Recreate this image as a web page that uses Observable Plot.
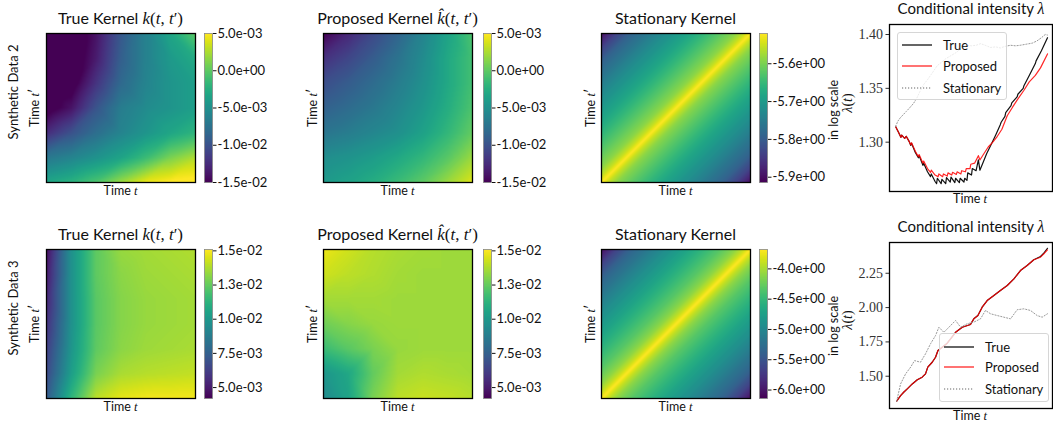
<!DOCTYPE html>
<html><head><meta charset="utf-8">
<script src="https://cdn.jsdelivr.net/npm/d3@7"></script>
<script src="https://cdn.jsdelivr.net/npm/@observablehq/plot@0.6"></script>
<style>
body{margin:0;background:#fff}
#fig{position:relative;width:1053px;height:427px;overflow:hidden;font-family:Lato,"DejaVu Sans",sans-serif;color:#111}
#fig svg{position:absolute;overflow:visible}
.lbl{position:absolute;white-space:nowrap;line-height:1}
.m{font-family:"Liberation Serif","DejaVu Serif",serif;font-style:italic}
.mm{font-family:"Liberation Serif","DejaVu Serif",serif}
.leg{position:absolute;background:rgba(255,255,255,0.8);border:1px solid #d6d6d6;border-radius:3px;font-size:13px}
.leg div{position:absolute;left:45px;transform:translateY(-50%);white-space:nowrap}
.leg svg{position:absolute;left:4px;width:30px;height:4px;transform:translateY(-50%)}
</style></head>
<body><div id="fig"></div>
<script>
// ---------- Heatmap data (rows top -> bottom, columns t = 0 .. 1) ----------
const sd2True = [
  [-0.0170,-0.0165,-0.0140,-0.0095,-0.0062,-0.0032, 0.0000],
  [-0.0170,-0.0165,-0.0135,-0.0090,-0.0062,-0.0042,-0.0028],
  [-0.0168,-0.0160,-0.0120,-0.0082,-0.0060,-0.0046,-0.0038],
  [-0.0160,-0.0140,-0.0098,-0.0066,-0.0054,-0.0046,-0.0038],
  [-0.0125,-0.0100,-0.0078,-0.0060,-0.0046,-0.0032,-0.0020],
  [-0.0070,-0.0060,-0.0048,-0.0034,-0.0014, 0.0010, 0.0026],
  [-0.0032,-0.0022,-0.0006, 0.0020, 0.0044, 0.0052, 0.0056]
];
const sd2Prop = [
  [-0.0150,-0.0128,-0.0106,-0.0086,-0.0060,-0.0034,-0.0006],
  [-0.0122,-0.0108,-0.0092,-0.0074,-0.0054,-0.0030,-0.0010],
  [-0.0102,-0.0092,-0.0080,-0.0066,-0.0050,-0.0030,-0.0010],
  [-0.0088,-0.0080,-0.0070,-0.0058,-0.0044,-0.0026,-0.0006],
  [-0.0072,-0.0066,-0.0058,-0.0050,-0.0036,-0.0018, 0.0002],
  [-0.0052,-0.0047,-0.0040,-0.0030,-0.0018,-0.0002, 0.0020],
  [-0.0042,-0.0035,-0.0026,-0.0014, 0.0000, 0.0020, 0.0040]
];
const sd3True = [
  [0.0045,0.0097,0.0124,0.0134,0.0136,0.0137,0.0138],
  [0.0049,0.0097,0.0124,0.0132,0.0135,0.0136,0.0137],
  [0.0053,0.0097,0.0123,0.0131,0.0134,0.0135,0.0136],
  [0.0057,0.0097,0.0123,0.0131,0.0134,0.0135,0.0136],
  [0.0062,0.0099,0.0124,0.0132,0.0135,0.0136,0.0137],
  [0.0066,0.0103,0.0129,0.0137,0.0139,0.0140,0.0141],
  [0.0073,0.0113,0.0140,0.0147,0.0149,0.0149,0.0149]
];
const sd3Prop = [
  [0.0148,0.0143,0.0139,0.0137,0.0136,0.0135,0.0135],
  [0.0143,0.0140,0.0138,0.0136,0.0135,0.0135,0.0135],
  [0.0136,0.0136,0.0136,0.0135,0.0135,0.0135,0.0135],
  [0.0127,0.0131,0.0134,0.0135,0.0135,0.0135,0.0135],
  [0.0116,0.0123,0.0129,0.0134,0.0135,0.0135,0.0135],
  [0.0099,0.0107,0.0125,0.0136,0.0138,0.0137,0.0136],
  [0.0094,0.0105,0.0129,0.0140,0.0142,0.0141,0.0139]
];
// stationary kernels: log value vs lag |t - t'|
const statLags = [0, 0.04, 0.1, 0.2, 0.4, 0.6, 0.8, 0.9, 1.0];
const sd2Stat = [-5.520,-5.553,-5.588,-5.619,-5.678,-5.729,-5.788,-5.835,-5.902];
const sd3Stat = [-3.680,-3.880,-4.100,-4.320,-4.664,-4.984,-5.353,-5.648,-6.066];

// colorbar domains and ticks
const cb2Kernel = {domain:[-0.015,0.005], ticks:[0.005,0,-0.005,-0.01,-0.015], labels:["5.0e-03","0.0e+00","-5.0e-03","-1.0e-02","-1.5e-02"]};
const cb2Stat = {domain:[-5.914,-5.520], ticks:[-5.6,-5.7,-5.8,-5.9], labels:["-5.6e+00","-5.7e+00","-5.8e+00","-5.9e+00"]};
const cb3Kernel = {domain:[0.0042,0.0151], ticks:[0.015,0.0125,0.01,0.0075,0.005], labels:["1.5e-02","1.3e-02","1.0e-02","7.5e-03","5.0e-03"]};
const cb3Stat = {domain:[-6.14,-3.68], ticks:[-4.0,-4.5,-5.0,-5.5,-6.0], labels:["-4.0e+00","-4.5e+00","-5.0e+00","-5.5e+00","-6.0e+00"]};

// ---------- Conditional intensity series [t, lambda] ----------
const r1True = [[0,1.3146],[0.02,1.309],[0.035,1.3045],[0.04,1.3065],[0.06,1.3035],[0.07,1.3055],[0.09,1.3005],[0.10,1.297],[0.105,1.299],[0.13,1.2905],[0.15,1.2855],[0.155,1.2875],[0.18,1.2785],[0.185,1.2805],[0.21,1.2725],[0.23,1.268],[0.235,1.2705],[0.26,1.2635],[0.27,1.2615],[0.275,1.2665],[0.30,1.2615],[0.305,1.2655],[0.33,1.2615],[0.335,1.267],[0.36,1.263],[0.365,1.2675],[0.39,1.2625],[0.395,1.2665],[0.42,1.2625],[0.425,1.2665],[0.45,1.263],[0.455,1.2665],[0.47,1.2645],[0.475,1.2715],[0.50,1.2695],[0.505,1.2755],[0.53,1.2735],[0.545,1.2835],[0.555,1.274],[0.57,1.279],[0.60,1.2895],[0.63,1.298],[0.66,1.307],[0.69,1.3165],[0.695,1.3185],[0.72,1.324],[0.725,1.3275],[0.76,1.334],[0.765,1.3365],[0.80,1.342],[0.805,1.3445],[0.84,1.350],[0.845,1.3525],[0.88,1.362],[0.92,1.373],[0.925,1.3755],[0.96,1.385],[1.0,1.397]];
const r1Prop = [[0,1.3146],[0.02,1.309],[0.035,1.3045],[0.04,1.3065],[0.06,1.3035],[0.07,1.3055],[0.09,1.3005],[0.10,1.2975],[0.105,1.2995],[0.13,1.2915],[0.15,1.2865],[0.155,1.2885],[0.18,1.2805],[0.185,1.2825],[0.21,1.2755],[0.23,1.272],[0.235,1.274],[0.26,1.2695],[0.28,1.268],[0.285,1.2705],[0.31,1.268],[0.315,1.2705],[0.34,1.2685],[0.345,1.2715],[0.37,1.2695],[0.375,1.272],[0.40,1.270],[0.405,1.2725],[0.43,1.2705],[0.435,1.2735],[0.46,1.2725],[0.465,1.2755],[0.49,1.2755],[0.495,1.2795],[0.52,1.2805],[0.545,1.2875],[0.555,1.2835],[0.58,1.289],[0.61,1.2955],[0.64,1.300],[0.67,1.3055],[0.70,1.312],[0.735,1.3245],[0.77,1.3325],[0.80,1.339],[0.844,1.348],[0.88,1.356],[0.92,1.362],[0.954,1.369],[1.0,1.382]];
const r1Stat = [[0,1.3146],[0.015,1.3195],[0.03,1.3225],[0.05,1.3255],[0.07,1.3285],[0.09,1.3315],[0.118,1.336],[0.14,1.341],[0.16,1.347],[0.187,1.354],[0.21,1.358],[0.24,1.364],[0.274,1.371],[0.30,1.374],[0.33,1.3775],[0.36,1.380],[0.39,1.3825],[0.406,1.384],[0.43,1.387],[0.47,1.390],[0.50,1.3895],[0.53,1.390],[0.56,1.3915],[0.59,1.390],[0.625,1.388],[0.66,1.3885],[0.69,1.3875],[0.72,1.389],[0.757,1.390],[0.79,1.3895],[0.82,1.390],[0.86,1.391],[0.90,1.392],[0.93,1.394],[0.96,1.397],[0.985,1.400],[1.0,1.3995]];
const r2True = [[0.007,1.318],[0.033,1.359],[0.055,1.385],[0.077,1.408],[0.11,1.444],[0.143,1.474],[0.175,1.493],[0.197,1.517],[0.212,1.566],[0.241,1.602],[0.263,1.638],[0.279,1.687],[0.307,1.711],[0.336,1.736],[0.362,1.772],[0.395,1.82],[0.439,1.857],[0.493,1.877],[0.515,1.918],[0.542,1.942],[0.570,2.003],[0.603,2.051],[0.647,2.088],[0.690,2.124],[0.735,2.161],[0.779,2.209],[0.822,2.27],[0.866,2.306],[0.91,2.348],[0.954,2.372],[0.98,2.402],[1.0,2.432]];
const r2Prop = [[0.007,1.318],[0.033,1.359],[0.055,1.385],[0.077,1.408],[0.11,1.444],[0.143,1.474],[0.175,1.493],[0.197,1.517],[0.212,1.566],[0.241,1.602],[0.263,1.638],[0.279,1.687],[0.307,1.711],[0.336,1.736],[0.362,1.772],[0.395,1.82],[0.439,1.857],[0.493,1.877],[0.515,1.918],[0.542,1.942],[0.570,2.003],[0.603,2.051],[0.647,2.088],[0.690,2.124],[0.735,2.161],[0.779,2.209],[0.822,2.27],[0.866,2.306],[0.91,2.348],[0.954,2.367],[0.98,2.396],[1.0,2.42]];
const r2Stat = [[0.007,1.318],[0.033,1.444],[0.066,1.517],[0.099,1.566],[0.125,1.614],[0.164,1.602],[0.197,1.663],[0.230,1.736],[0.263,1.796],[0.285,1.857],[0.318,1.82],[0.362,1.869],[0.395,1.906],[0.428,1.857],[0.471,1.882],[0.515,1.894],[0.559,1.918],[0.592,1.979],[0.625,1.955],[0.669,1.942],[0.713,1.930],[0.757,1.918],[0.800,1.984],[0.844,1.991],[0.888,1.979],[0.932,1.942],[0.965,1.930],[1.0,1.955]];
const r1Ticks = [1.30,1.35,1.40];
const r2Ticks = [1.50,1.75,2.00,2.25];

// ---------- helpers ----------
const fig = document.getElementById("fig");
function place(el, left, top){ el.style.left = left+"px"; el.style.top = top+"px"; fig.append(el); }
function gridPoints(rows){
  const n = rows.length, m = rows[0].length, pts = [];
  rows.forEach((r,i)=>r.forEach((v,j)=>pts.push({t:j/(m-1), tp:1-i/(n-1), v})));
  return pts;
}
// points laid along lines t' - t = ±lag, aligned along the diagonal direction
function lagPoints(lags, vals){
  const pts = [], step = 0.02;
  lags.forEach((d,k)=>{
    for (const s of (d===0?[0]:[d,-d])) {
      const lo = Math.abs(s)/2, hi = 1 - Math.abs(s)/2;
      const us = [lo];
      for (let u = Math.ceil(lo/step)*step; u < hi; u += step) if (u > lo + 1e-9) us.push(u);
      if (hi > lo + 1e-9) us.push(hi);
      for (const u of us) pts.push({t:u - s/2, tp:u + s/2, v:vals[k]});
    }
  });
  return pts;
}
function heat(pts, domain){
  return Plot.plot({width:151,height:151,margin:1,
    x:{domain:[0,1],axis:null}, y:{domain:[0,1],axis:null},
    color:{type:"linear",scheme:"viridis",domain,clamp:true},
    marks:[
      Plot.raster(pts,{x:"t",y:"tp",fill:"v",interpolate:"barycentric",x1:0,y1:0,x2:1,y2:1}),
      Plot.frame({stroke:"black",strokeWidth:1.3})
    ]});
}
function cbar(cb){
  const fmt = new Map(cb.ticks.map((t,i)=>[t,cb.labels[i]]));
  return Plot.plot({width:72,height:151,marginLeft:1,marginRight:63,marginTop:1,marginBottom:1,
    style:{fontFamily:"Lato, sans-serif",color:"#111"},
    x:{domain:[0,1],axis:null}, y:{domain:cb.domain,axis:null},
    color:{type:"linear",scheme:"viridis",domain:cb.domain},
    marks:[
      Plot.raster({fill:(x,y)=>y,x1:0,x2:1,y1:cb.domain[0],y2:cb.domain[1],width:1,height:300}),
      Plot.frame({stroke:"#888",strokeWidth:0.8}),
      Plot.axisY({anchor:"right",ticks:cb.ticks,tickFormat:d=>fmt.get(d),tickSize:3.5,tickPadding:1.5,fontSize:13})
    ]});
}
function lines(tr, pr, st, yDomain, ticks, h){
  return Plot.plot({width:204,height:h,marginLeft:40,marginRight:1,marginTop:1,marginBottom:1,
    style:{fontFamily:"'Liberation Serif', serif",color:"#333"},
    x:{domain:[-0.04,1.033],axis:null}, y:{domain:yDomain,axis:null},
    marks:[
      Plot.line(tr,{x:d=>d[0],y:d=>d[1],stroke:"#111",strokeWidth:1.2}),
      Plot.line(pr,{x:d=>d[0],y:d=>d[1],stroke:"#ff0000",strokeOpacity:0.85,strokeWidth:1.2}),
      Plot.line(st,{x:d=>d[0],y:d=>d[1],stroke:"#999",strokeWidth:1,strokeDasharray:"1.2,1.8"}),
      Plot.axisY({ticks,tickFormat:d=>d.toFixed(2),tickSize:3.5,tickPadding:3,fontSize:14}),
      Plot.frame({stroke:"black",strokeWidth:1.3})
    ]});
}
function label(html, x, y, size, rot){
  const d = document.createElement("div");
  d.className = "lbl"; d.innerHTML = html;
  d.style.fontSize = size+"px";
  d.style.transform = "translate(-50%,-50%)" + (rot ? " rotate(-90deg)" : "");
  place(d, x, y);
}
function legend(x, y, w, h, rows){
  const box = document.createElement("div");
  box.className = "leg"; box.style.width = w+"px"; box.style.height = h+"px";
  const items = [["True","#111",1,null],["Proposed","#ff0000",0.85,null],["Stationary","#999",1,"1.2,1.8"]];
  items.forEach((it,i)=>{
    const s = document.createElementNS("http://www.w3.org/2000/svg","svg");
    s.style.top = rows[i]+"px";
    s.innerHTML = `<line x1="0" x2="30" y1="2" y2="2" stroke="${it[1]}" stroke-opacity="${it[2]}" stroke-width="1.3" ${it[3]?`stroke-dasharray="${it[3]}"`:""}/>`;
    box.append(s);
    const t = document.createElement("div"); t.textContent = it[0]; t.style.top = rows[i]+"px";
    box.append(t);
  });
  place(box, x, y);
}

// ---------- layout ----------
const rowsTop = [33, 249];
const kx = [46, 323, 601];
const data = [
  {tr:sd2True, pr:sd2Prop, st:sd2Stat, cbK:cb2Kernel, cbS:cb2Stat, name:"Synthetic Data 2",
   lt:r1True, lp:r1Prop, ls:r1Stat, yd:[1.2542,1.4093], yt:r1Ticks, lineTop:23, lineH:169},
  {tr:sd3True, pr:sd3Prop, st:sd3Stat, cbK:cb3Kernel, cbS:cb3Stat, name:"Synthetic Data 3",
   lt:r2True, lp:r2Prop, ls:r2Stat, yd:[1.265,2.474], yt:r2Ticks, lineTop:241, lineH:168}
];
const T = '<span class="m">t</span>';
const titles = [
  'True Kernel <span class="mm" style="font-size:17px"><span class="m">k</span>(<span class="m">t</span>, <span class="m">t</span>′)</span>',
  'Proposed Kernel <span class="mm" style="font-size:17px"><span class="m">k̂</span>(<span class="m">t</span>, <span class="m">t</span>′)</span>',
  'Stationary Kernel'
];
data.forEach((r, ri)=>{
  const top = rowsTop[ri], cy = top + 74.5;
  place(heat(gridPoints(r.tr), r.cbK.domain), kx[0]-1, top-1);
  place(heat(gridPoints(r.pr), r.cbK.domain), kx[1]-1, top-1);
  place(heat(lagPoints(statLags, r.st), r.cbS.domain), kx[2]-1, top-1);
  place(cbar(r.cbK), 203, top-1);
  place(cbar(r.cbK), 482, top-1);
  place(cbar(r.cbS), 758, top-1);
  kx.forEach((x,i)=>{
    label(titles[i], x+74.5, top-15.5, 16);
    label('Time '+T, x+74.5, top+158, 12.5);
  });
  label('Time '+T+'′', 35, cy, 12.5, true);
  label('Time '+T+'′', 313, cy, 12.5, true);
  label('Time '+T+'′', 591, cy, 12.5, true);
  label(r.name, 13, cy-16, 13, true);
  label('in log scale', 834, cy+2, 12.5, true);
  // line chart
  place(lines(r.lt, r.lp, r.ls, r.yd, r.yt, r.lineH), 849, r.lineTop);
  label('Conditional intensity <span class="m" style="font-size:16px">λ</span>', 971, r.lineTop-14, 15);
  label('Time '+T, 970, r.lineTop + r.lineH + 7, 12.5);
  label('<span class="m">λ</span><span class="mm">(</span><span class="m">t</span><span class="mm">)</span>', 847, r.lineTop + r.lineH/2 - 5, 14, true);
});
legend(897, 32, 108, 66, [12, 33, 55]);
legend(939, 333, 108, 67, [13, 33, 55]);
</script></body></html>
